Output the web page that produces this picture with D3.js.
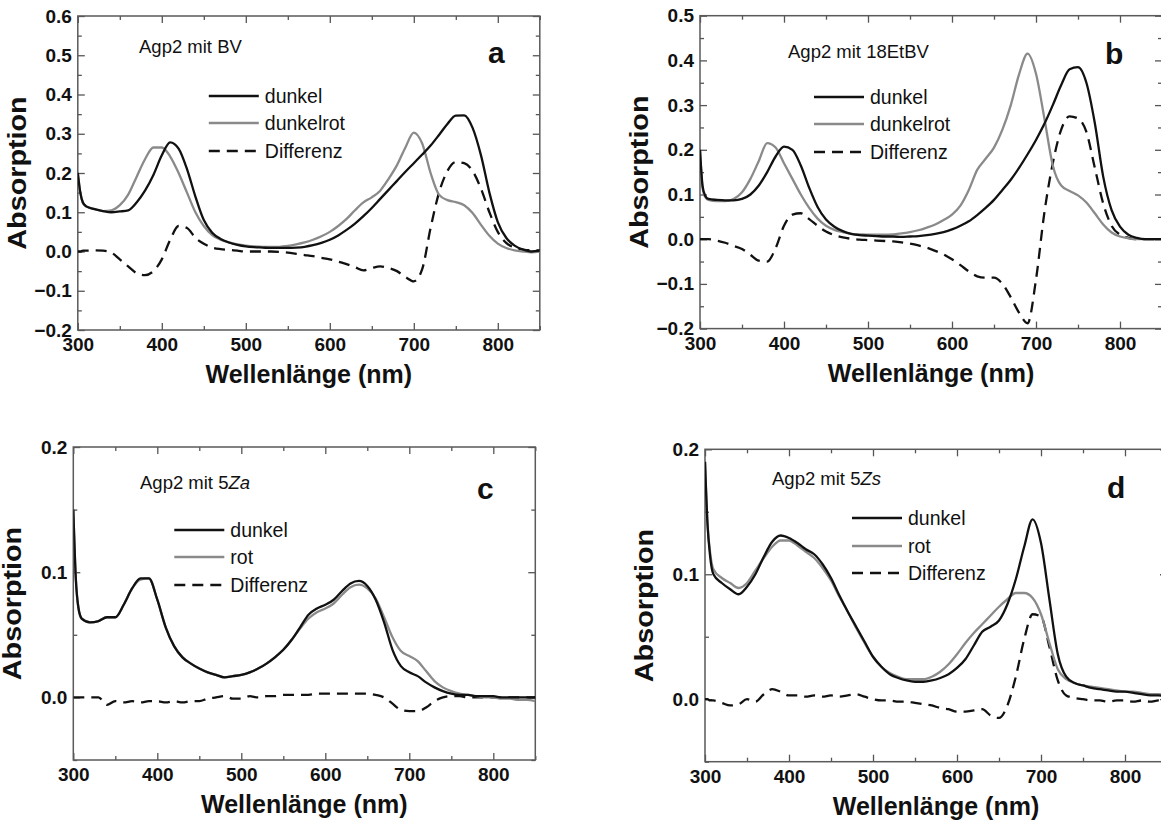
<!DOCTYPE html>
<html>
<head>
<meta charset="utf-8">
<script src="https://cdn.jsdelivr.net/npm/d3@7"></script>
<style>
body { margin: 0; background: #fff; overflow: hidden; }
text { font-family: "Liberation Sans", Arial, sans-serif; fill: #111; }
.tick text { font-size: 19px; font-weight: bold; }
.tick line { stroke: #555; stroke-width: 1.3; }
.axis-title { font-size: 25px; font-weight: bold; }
.note { font-size: 18.5px; }
.legend-label { font-size: 19.5px; }
.panel-letter { font-size: 30px; font-weight: bold; }
</style>
</head>
<body>
<svg width="1161" height="824"></svg>
<script>
// wavelength grid shared by all spectra (nm)
const wl = [300, 303, 306, 310, 320, 330, 340, 350, 360, 370, 380, 390, 400, 410, 420, 430, 440, 450,
  460, 470, 480, 490, 500, 510, 520, 530, 540, 550, 560, 570, 580, 590, 600, 610, 620, 630, 640, 650,
  660, 670, 680, 690, 700, 710, 720, 730, 740, 750, 760, 770, 780, 790, 800, 810, 820, 830, 840, 850];

// panel a: Agp2 mit BV
const dunkelA = [0.20, 0.15, 0.125, 0.115, 0.108, 0.103, 0.100, 0.102, 0.105, 0.125, 0.155, 0.195, 0.245, 0.278,
  0.262, 0.21, 0.14, 0.08, 0.048, 0.032, 0.023, 0.017, 0.013, 0.011, 0.010, 0.009, 0.009, 0.009, 0.010, 0.012,
  0.016, 0.022, 0.030, 0.041, 0.055, 0.071, 0.090, 0.111, 0.134, 0.157, 0.180, 0.203, 0.225, 0.247, 0.270,
  0.297, 0.325, 0.346, 0.347, 0.315, 0.245, 0.15, 0.075, 0.035, 0.015, 0.005, 0.0, 0.002];
const rotA = [0.20, 0.15, 0.125, 0.115, 0.108, 0.103, 0.105, 0.118, 0.145, 0.19, 0.235, 0.265, 0.265, 0.242,
  0.2, 0.15, 0.1, 0.065, 0.042, 0.03, 0.023, 0.018, 0.015, 0.013, 0.012, 0.012, 0.012, 0.014, 0.018, 0.023,
  0.03, 0.039, 0.05, 0.065, 0.083, 0.105, 0.125, 0.138, 0.155, 0.185, 0.22, 0.265, 0.303, 0.275, 0.2,
  0.145, 0.131, 0.126, 0.118, 0.098, 0.068, 0.04, 0.02, 0.009, 0.003, 0.0, -0.002, 0.0];
const diffA = [0.0, 0.0, 0.002, 0.002, 0.003, 0.002, -0.003, -0.02, -0.038, -0.055, -0.06, -0.05, -0.02, 0.03,
  0.065, 0.06, 0.035, 0.02, 0.01, 0.006, 0.004, 0.002, 0.0, 0.0, 0.0, 0.0, -0.001, -0.003, -0.006, -0.009,
  -0.012, -0.016, -0.02, -0.026, -0.032, -0.04, -0.048, -0.042, -0.038, -0.042, -0.05, -0.065, -0.076, -0.045, 0.06,
  0.15, 0.205, 0.228, 0.225, 0.205, 0.16, 0.1, 0.05, 0.022, 0.01, 0.005, 0.003, 0.003];

// panel b: Agp2 mit 18EtBV
const dunkelB = [0.2, 0.12, 0.098, 0.09, 0.088, 0.087, 0.087, 0.09, 0.1, 0.12, 0.15, 0.185, 0.207, 0.2,
  0.165, 0.115, 0.072, 0.044, 0.028, 0.018, 0.012, 0.009, 0.008, 0.007, 0.006, 0.006, 0.005, 0.006, 0.007, 0.009,
  0.012, 0.016, 0.022, 0.03, 0.04, 0.054, 0.07, 0.088, 0.11, 0.133, 0.16, 0.19, 0.222, 0.258, 0.3,
  0.345, 0.38, 0.385, 0.35, 0.26, 0.14, 0.065, 0.028, 0.01, 0.003, 0.0, 0.0, 0.0];
const rotB = [0.2, 0.115, 0.095, 0.088, 0.085, 0.085, 0.09, 0.105, 0.135, 0.175, 0.215, 0.205, 0.17, 0.135,
  0.1, 0.07, 0.046, 0.03, 0.021, 0.016, 0.012, 0.011, 0.01, 0.01, 0.01, 0.011, 0.013, 0.016, 0.02, 0.026,
  0.033, 0.043, 0.055, 0.075, 0.11, 0.155, 0.18, 0.205, 0.245, 0.3, 0.37, 0.415, 0.37, 0.27, 0.165,
  0.12, 0.108, 0.098, 0.082, 0.058, 0.033, 0.015, 0.006, 0.002, 0.0, 0.0, 0.0, 0.0];
const diffB = [0.0, 0.0, 0.0, 0.0, -0.003, -0.008, -0.015, -0.022, -0.035, -0.048, -0.05, -0.02, 0.03, 0.055,
  0.058, 0.045, 0.03, 0.017, 0.009, 0.004, 0.001, -0.001, -0.002, -0.003, -0.004, -0.005, -0.007, -0.01, -0.014, -0.019,
  -0.026, -0.034, -0.045, -0.058, -0.072, -0.083, -0.086, -0.086, -0.1, -0.13, -0.165, -0.188, -0.09, 0.06, 0.17,
  0.245, 0.275, 0.27, 0.24, 0.16, 0.08, 0.03, 0.01, 0.003, 0.0, 0.0, 0.0, 0.0];

// panel c: Agp2 mit 5Za
const dunkelC = [0.15, 0.095, 0.072, 0.063, 0.06, 0.061, 0.064, 0.064, 0.074, 0.087, 0.095, 0.095, 0.078, 0.056,
  0.041, 0.032, 0.027, 0.023, 0.02, 0.018, 0.016, 0.017, 0.018, 0.02, 0.023, 0.027, 0.032, 0.038, 0.046, 0.056,
  0.066, 0.071, 0.074, 0.078, 0.085, 0.091, 0.093, 0.089, 0.078, 0.06, 0.038, 0.025, 0.02, 0.017, 0.012,
  0.008, 0.005, 0.003, 0.002, 0.002, 0.001, 0.001, 0.001, 0.0, 0.0, 0.0, 0.0, 0.0];
const rotC = [0.15, 0.095, 0.072, 0.063, 0.06, 0.061, 0.064, 0.064, 0.074, 0.087, 0.094, 0.095, 0.078, 0.056,
  0.041, 0.032, 0.027, 0.023, 0.02, 0.018, 0.016, 0.017, 0.018, 0.02, 0.023, 0.027, 0.032, 0.038, 0.046, 0.055,
  0.063, 0.068, 0.071, 0.075, 0.082, 0.088, 0.09, 0.087, 0.079, 0.064, 0.048, 0.037, 0.033, 0.029, 0.021,
  0.013, 0.008, 0.005, 0.003, 0.002, 0.001, 0.0, 0.0, -0.001, -0.001, -0.002, -0.002, -0.003];
const diffC = [0.0, 0.0, 0.0, 0.0, 0.0, 0.0, -0.006, -0.003, -0.004, -0.003, -0.004, -0.003, -0.003, -0.004,
  -0.003, -0.004, -0.003, -0.003, -0.001, 0.0, 0.001, -0.001, -0.001, 0.001, 0.0, 0.001, 0.001, 0.002, 0.002, 0.002,
  0.002, 0.003, 0.003, 0.003, 0.003, 0.003, 0.003, 0.003, 0.002, 0.0, -0.005, -0.01, -0.011, -0.011, -0.008,
  -0.003, 0.0, 0.001, 0.001, 0.0, 0.0, 0.0, 0.0, 0.0, 0.0, 0.0, 0.0, 0.0];

// panel d: Agp2 mit 5Zs
const dunkelD = [0.19, 0.14, 0.115, 0.1, 0.093, 0.088, 0.084, 0.09, 0.1, 0.114, 0.126, 0.131, 0.129, 0.125,
  0.12, 0.116, 0.108, 0.097, 0.083, 0.07, 0.058, 0.046, 0.034, 0.026, 0.02, 0.017, 0.015, 0.014, 0.014, 0.015,
  0.017, 0.02, 0.025, 0.032, 0.043, 0.054, 0.058, 0.063, 0.076, 0.096, 0.122, 0.144, 0.125, 0.08, 0.036,
  0.018, 0.013, 0.011, 0.009, 0.008, 0.007, 0.006, 0.006, 0.005, 0.004, 0.003, 0.003, 0.002];
const rotD = [0.19, 0.14, 0.118, 0.104, 0.097, 0.093, 0.089, 0.093, 0.103, 0.113, 0.122, 0.127, 0.127, 0.123,
  0.118, 0.113, 0.105, 0.095, 0.082, 0.07, 0.057, 0.045, 0.034, 0.026, 0.021, 0.018, 0.016, 0.016, 0.016, 0.018,
  0.022, 0.028, 0.036, 0.045, 0.053, 0.06, 0.067, 0.074, 0.08, 0.085, 0.085, 0.081, 0.068, 0.045, 0.024,
  0.016, 0.013, 0.011, 0.01, 0.009, 0.008, 0.007, 0.006, 0.006, 0.005, 0.004, 0.004, 0.003];
const diffD = [0.0, 0.0, -0.001, -0.001, -0.003, -0.005, -0.004, 0.0, -0.002, 0.004, 0.008, 0.006, 0.003, 0.003,
  0.002, 0.003, 0.002, 0.003, 0.002, 0.003, 0.004, 0.002, 0.0, -0.001, -0.001, -0.002, -0.002, -0.003, -0.004, -0.005,
  -0.007, -0.008, -0.01, -0.01, -0.009, -0.008, -0.013, -0.015, -0.005, 0.018, 0.048, 0.068, 0.066, 0.042, 0.015,
  0.003, 0.001, 0.0, -0.001, -0.001, -0.002, -0.001, -0.001, -0.002, -0.001, -0.002, -0.001, -0.001];

// ticks
const xTicks = [300, 400, 500, 600, 700, 800];
const xMinor = [350, 450, 550, 650, 750, 850];
const yTicksA = [-0.2, -0.1, 0.0, 0.1, 0.2, 0.3, 0.4, 0.5, 0.6];
const yMinorA = [-0.15, -0.05, 0.05, 0.15, 0.25, 0.35, 0.45, 0.55];
const yTicksB = [-0.2, -0.1, 0.0, 0.1, 0.2, 0.3, 0.4, 0.5];
const yMinorB = [-0.15, -0.05, 0.05, 0.15, 0.25, 0.35, 0.45];
const yTicksCD = [0.0, 0.1, 0.2];
const yMinorCD = [-0.05, 0.05, 0.15];

const panels = [
  { id: 'a', left: 77.8, top: 16, bottom: 330, yDomain: [-0.2, 0.6], yTicks: yTicksA, yMinor: yMinorA,
    series: [dunkelA, rotA, diffA], names: ['dunkel', 'dunkelrot', 'Differenz'],
    note: [['Agp2 mit BV', false]], noteX: 139, noteY: 53, letterX: 488, letterY: 63,
    legX: 131, legY: [96, 123, 151] },
  { id: 'b', left: 700, top: 15.7, bottom: 328.6, yDomain: [-0.2, 0.5], yTicks: yTicksB, yMinor: yMinorB,
    series: [dunkelB, rotB, diffB], names: ['dunkel', 'dunkelrot', 'Differenz'],
    note: [['Agp2 mit 18EtBV', false]], noteX: 788, noteY: 58, letterX: 1105, letterY: 64,
    legX: 114, legY: [97, 124, 152] },
  { id: 'c', left: 73.3, top: 447, bottom: 760, yDomain: [-0.05, 0.2], yTicks: yTicksCD, yMinor: yMinorCD,
    series: [dunkelC, rotC, diffC], names: ['dunkel', 'rot', 'Differenz'],
    note: [['Agp2 mit 5', false], ['Za', true]], noteX: 140, noteY: 489, letterX: 477, letterY: 499,
    legX: 101, legY: [530, 557, 585] },
  { id: 'd', left: 705, top: 449.3, bottom: 761.7, yDomain: [-0.05, 0.2], yTicks: yTicksCD, yMinor: yMinorCD,
    series: [dunkelD, rotD, diffD], names: ['dunkel', 'rot', 'Differenz'],
    note: [['Agp2 mit 5', false], ['Zs', true]], noteX: 772, noteY: 485, letterX: 1107, letterY: 498,
    legX: 147, legY: [518, 546, 573] }
];

const styles = [
  { color: '#111', dash: null },
  { color: '#8a8a8a', dash: null },
  { color: '#111', dash: '11,7' }
];

const svg = d3.select('svg');
const plotW = 462;

panels.forEach((p) => {
  const x = d3.scaleLinear().domain([300, 850]).range([p.left, p.left + plotW]);
  const y = d3.scaleLinear().domain(p.yDomain).range([p.bottom, p.top]);
  const g = svg.append('g');

  g.append('clipPath').attr('id', 'clip-' + p.id)
    .append('rect').attr('x', p.left).attr('y', p.top)
    .attr('width', plotW).attr('height', p.bottom - p.top);

  // inward ticks on all four sides
  const addAxis = (axis, tr) => {
    const a = g.append('g').attr('transform', tr).call(axis);
    a.select('.domain').remove();
    return a;
  };
  addAxis(d3.axisBottom(x).tickValues(xTicks).tickSizeInner(-7).tickSizeOuter(0).tickPadding(8), `translate(0,${p.bottom})`);
  addAxis(d3.axisBottom(x).tickValues(xMinor).tickSize(-4).tickFormat(''), `translate(0,${p.bottom})`);
  addAxis(d3.axisTop(x).tickValues(xTicks).tickSize(-7).tickFormat(''), `translate(0,${p.top})`);
  addAxis(d3.axisTop(x).tickValues(xMinor).tickSize(-4).tickFormat(''), `translate(0,${p.top})`);
  addAxis(d3.axisLeft(y).tickValues(p.yTicks).tickSizeInner(-7).tickSizeOuter(0).tickPadding(6).tickFormat(d3.format('.1f')), `translate(${p.left},0)`);
  addAxis(d3.axisLeft(y).tickValues(p.yMinor).tickSize(-4).tickFormat(''), `translate(${p.left},0)`);
  addAxis(d3.axisRight(y).tickValues(p.yTicks).tickSize(-7).tickFormat(''), `translate(${p.left + plotW},0)`);
  addAxis(d3.axisRight(y).tickValues(p.yMinor).tickSize(-4).tickFormat(''), `translate(${p.left + plotW},0)`);

  g.append('rect').attr('x', p.left).attr('y', p.top)
    .attr('width', plotW).attr('height', p.bottom - p.top)
    .attr('fill', 'none').attr('stroke', '#5a5a5a').attr('stroke-width', 1.5);

  // spectra
  const line = d3.line().x((d) => x(d[0])).y((d) => y(d[1])).curve(d3.curveMonotoneX);
  const order = [2, 1, 0];
  order.forEach((k) => {
    g.append('path')
      .datum(wl.map((w, i) => [w, p.series[k][i]]))
      .attr('clip-path', `url(#clip-${p.id})`)
      .attr('fill', 'none')
      .attr('stroke', styles[k].color)
      .attr('stroke-width', 2.3)
      .attr('stroke-dasharray', styles[k].dash)
      .attr('d', line);
  });

  // legend
  p.names.forEach((name, k) => {
    const ly = p.legY[k];
    g.append('line')
      .attr('x1', p.left + p.legX).attr('x2', p.left + p.legX + 50)
      .attr('y1', ly).attr('y2', ly)
      .attr('stroke', styles[k].color).attr('stroke-width', 2.5)
      .attr('stroke-dasharray', styles[k].dash);
    g.append('text').attr('class', 'legend-label')
      .attr('x', p.left + p.legX + 56).attr('y', ly + 7).text(name);
  });

  // sample note and panel letter
  const note = g.append('text').attr('class', 'note').attr('x', p.noteX).attr('y', p.noteY);
  p.note.forEach((part) => {
    note.append('tspan').attr('font-style', part[1] ? 'italic' : 'normal').text(part[0]);
  });
  g.append('text').attr('class', 'panel-letter').attr('x', p.letterX).attr('y', p.letterY).text(p.id);

  // axis titles
  g.append('text').attr('class', 'axis-title')
    .attr('text-anchor', 'middle')
    .attr('x', p.left + plotW / 2).attr('y', p.bottom + 53)
    .text('Wellenlänge (nm)');
  g.append('text').attr('class', 'axis-title')
    .attr('text-anchor', 'middle')
    .attr('transform', `translate(${p.left - 52},${(p.top + p.bottom) / 2}) rotate(-90) scale(1.15,1)`)
    .text('Absorption');
});
</script>
</body>
</html>
